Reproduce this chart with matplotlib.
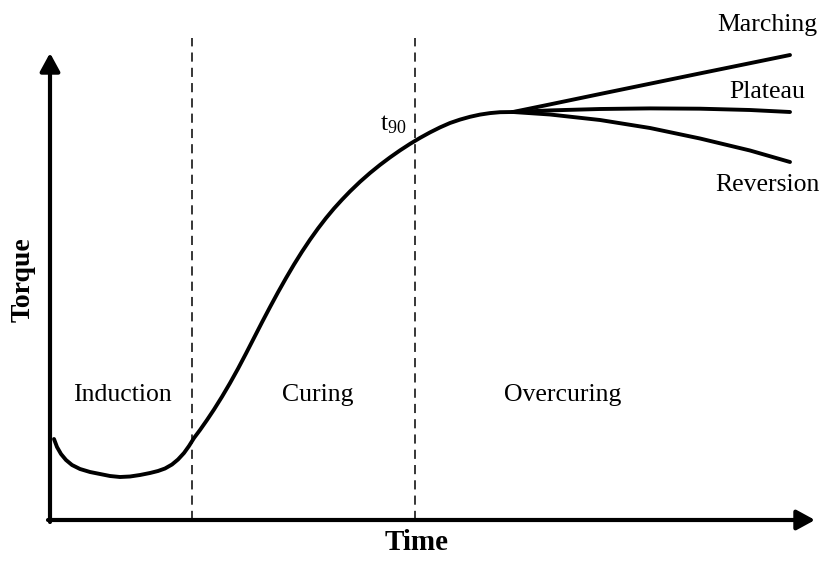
import matplotlib
matplotlib.use("Agg")
import matplotlib.pyplot as plt

plt.rcParams['font.family'] = ['Liberation Serif', 'DejaVu Serif']
plt.rcParams['mathtext.fontset'] = 'custom'
plt.rcParams['mathtext.rm'] = 'Liberation Serif'
plt.rcParams['mathtext.it'] = 'Liberation Serif'

# Main cure curve (time, torque) in arbitrary units
time_main = [4, 7, 11, 16, 22, 30, 40, 50, 60, 70,
             80, 90, 100, 108, 115, 122, 128, 134, 139, 144,
             150, 157, 164, 172, 180, 188, 196, 204, 212, 220,
             228, 236, 244, 252, 260, 268, 276, 284, 292, 300,
             310, 320, 330, 340, 350, 360, 370, 380, 390, 400,
             410, 420, 430, 440, 450, 463]
torque_main = [81, 73, 66, 60, 55, 51, 48, 46, 44, 43,
               43.5, 45, 47, 49, 51.5, 55.5, 60.5, 67, 74, 82,
               90, 100, 110.5, 123.3, 136.9, 151.3, 166.5, 182.1, 197.7, 212.9,
               227.7, 241.9, 255.5, 268.3, 280.3, 291.5, 301.9, 311.5, 320.3, 328.6,
               338.2, 347, 355.1, 362.6, 369.6, 376.1, 382.1, 387.6, 392.6, 397,
               400.4, 403.2, 405.4, 406.9, 407.8, 408]

# Overcuring branches
time_branch = [463, 500, 550, 600, 650, 700, 740]
torque_marching = [408, 415.6, 426, 436.3, 446.6, 456.8, 465]
torque_plateau = [408, 409.6, 411.0, 411.6, 411.3, 410, 408]
torque_reversion = [408, 405.5, 400, 392, 381.5, 369.5, 358]

phase_bounds = [142, 365]
phase_labels = ["Induction", "Curing", "Overcuring"]
phase_label_x = [72, 268, 513]
branch_labels = ["Marching", "Plateau", "Reversion"]
branch_label_y = [495, 428, 335]

fig = plt.figure(figsize=(8.25, 5.61), dpi=100)
ax = fig.add_axes([50/825, 41/561, 765/825, 467/561])
ax.set_xlim(0, 765)
ax.set_ylim(0, 467)
ax.axis('off')

lw = 2.8
line_kw = dict(color='black', lw=lw, solid_capstyle='round',
               solid_joinstyle='round', clip_on=False)
ax.plot(time_main, torque_main, **line_kw)
for tb in (torque_marching, torque_plateau, torque_reversion):
    ax.plot(time_branch, tb, **line_kw)

for xb in phase_bounds:
    ax.plot([xb, xb], [0, 482], color='black', lw=1.1, ls=(0, (6, 4)), clip_on=False)

# axes arrows
arrow_kw = dict(arrowstyle='-|>,head_length=0.55,head_width=0.3', lw=3, color='black',
                shrinkA=0, shrinkB=0, mutation_scale=20)
ax.annotate('', xy=(0, 467), xytext=(0, -2), arrowprops=arrow_kw, annotation_clip=False)
ax.annotate('', xy=(765, 0), xytext=(-2, 0), arrowprops=arrow_kw, annotation_clip=False)

fs = 18.5
for lab, xl in zip(phase_labels, phase_label_x):
    ax.text(xl, 125, lab, fontsize=fs, ha='center', va='center')
for lab, yl in zip(branch_labels, branch_label_y):
    ax.text(717, yl, lab, fontsize=fs, ha='center', va='center', clip_on=False)

ax.text(357, 395, r'$\mathrm{t}_{90}$', fontsize=fs, ha='right', va='center')

ax.text(367, -23, "Time", fontsize=21, fontweight='bold', ha='center', va='center',
        clip_on=False)
ax.text(-27, 240, "Torque", fontsize=20, fontweight='bold', ha='center', va='center',
        rotation=90, clip_on=False)

fig.savefig("out.png", dpi=100)
